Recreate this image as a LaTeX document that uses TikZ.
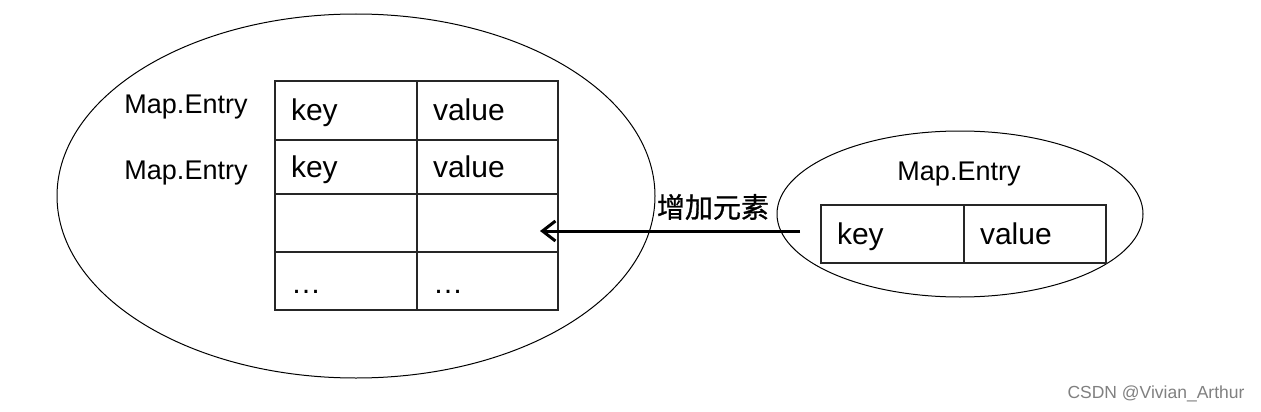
\documentclass[tikz,border=0pt]{standalone}
\usepackage{fontspec}
\setmainfont{Liberation Sans}
\newfontfamily\cjkfont{Noto Sans CJK SC}[FakeBold=1]
\usetikzlibrary{shapes.geometric,arrows.meta}
\begin{document}
\begin{tikzpicture}[x=1pt,y=-1pt,
  cell/.style={draw=black!85,line width=1.6pt,anchor=north west,inner xsep=16pt,
    inner ysep=0pt,outer sep=0pt,align=left,text height=25pt,text depth=4pt,
    font=\fontsize{30}{36}\selectfont},
  dots/.style={text depth=0pt},
  entrylbl/.style={font=\fontsize{27}{32}\selectfont},
  bag/.style={ellipse,draw,line width=1pt,inner sep=0pt},
  addarrow/.style={line width=3pt,-{Straight Barb[length=13pt,width=20pt,line width=3pt]}}]
\useasboundingbox (0,0) rectangle (1261,412);
% the map with its entries
\node[bag,minimum width=598pt,minimum height=364pt] (map) at (356,196) {};
\node[cell,text width=110pt,minimum height=59pt] (k1) at (275,81) {key};
\node[cell,text width=109pt,minimum height=59pt] (v1) at (k1.north east) {value};
\node[cell,text width=110pt,minimum height=54pt] (k2) at (k1.south west) {key};
\node[cell,text width=109pt,minimum height=54pt] (v2) at (k2.north east) {value};
\node[cell,text width=110pt,minimum height=58pt] (k3) at (k2.south west) {};
\node[cell,text width=109pt,minimum height=58pt] (v3) at (k3.north east) {};
\node[cell,dots,text width=110pt,minimum height=58pt] (k4) at (k3.south west) {\dots};
\node[cell,dots,text width=109pt,minimum height=58pt] (v4) at (k4.north east) {\dots};
\node[entrylbl] (e1) at (186,107) {Map.Entry};
\node[entrylbl] (e2) at (186,173) {Map.Entry};
% the new entry
\node[bag,minimum width=366pt,minimum height=166pt] (new) at (960,214) {};
\node[entrylbl] (e3) at (959,174) {Map.Entry};
\node[cell,text width=111pt,minimum height=58pt] (nk) at (821,205) {key};
\node[cell,text width=110pt,minimum height=58pt] (nv) at (nk.north east) {value};
% adding it
\coordinate (src) at (800,231);
\coordinate (slot) at (540,231);
\draw[addarrow] (src) -- (slot);
\node[font=\cjkfont\fontsize{28}{32}\selectfont] (add) at (713,207) {增加元素};
\node[font=\fontsize{17.5}{20}\selectfont,text=black!50] (mark) at (1156,394) {CSDN @Vivian\_Arthur};
\end{tikzpicture}
\end{document}
